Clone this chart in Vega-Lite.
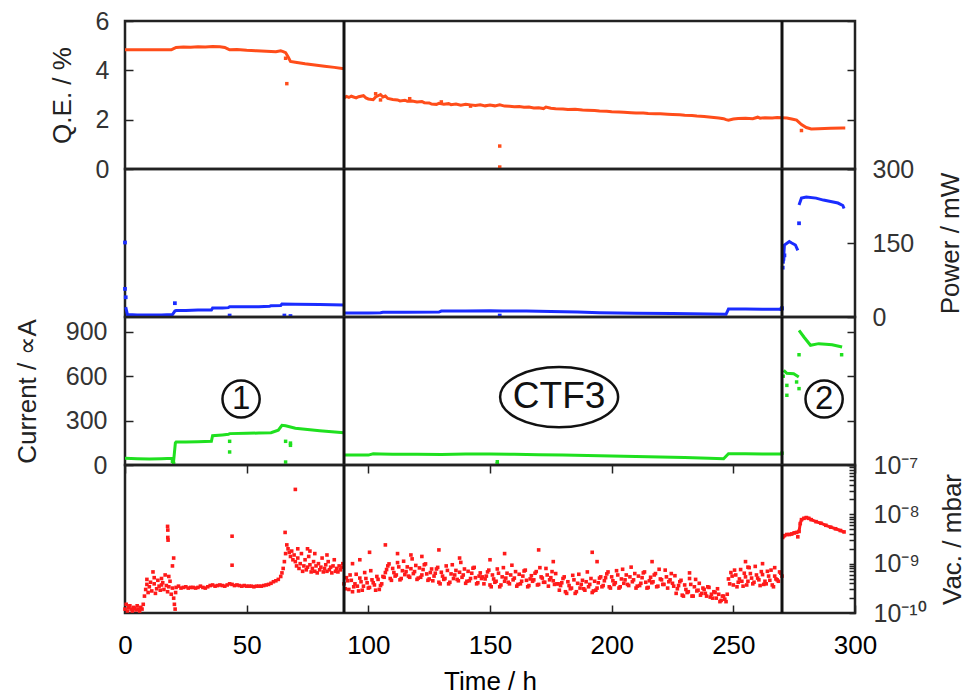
{
"$schema": "https://vega.github.io/schema/vega-lite/v6.json",
"background": "white",
"padding": {"left": 12, "top": 7, "right": 113, "bottom": 0},
"spacing": 0,
"bounds": "flush",
"config": {
 "font": "Liberation Sans",
 "view": {"stroke": "#222", "strokeWidth": 2.5},
 "axis": {"domain": false, "grid": false, "tickColor": "#222", "tickWidth": 1.5, "labelFont": "Liberation Sans", "labelFontSize": 25, "labelColor": "#333", "titleFont": "Liberation Sans", "titleFontSize": 26, "titleFontWeight": "normal", "titleColor": "#222", "labelFlush": false}
},
"datasets": {
 "qe": [
  {"t":0,"v":4.83,"s":"a"},{"t":10,"v":4.83,"s":"a"},{"t":19,"v":4.83,"s":"a"},{"t":20,"v":4.88,"s":"a"},{"t":21,"v":4.93,"s":"a"},{"t":24,"v":4.95,"s":"a"},{"t":27,"v":4.94,"s":"a"},{"t":30,"v":4.96,"s":"a"},{"t":33,"v":4.95,"s":"a"},{"t":36,"v":4.97,"s":"a"},{"t":39,"v":4.96,"s":"a"},{"t":41,"v":4.93,"s":"a"},{"t":42,"v":4.88,"s":"a"},{"t":43,"v":4.83,"s":"a"},{"t":46,"v":4.84,"s":"a"},{"t":50,"v":4.81,"s":"a"},{"t":54,"v":4.79,"s":"a"},{"t":58,"v":4.77,"s":"a"},{"t":62,"v":4.75,"s":"a"},{"t":64,"v":4.79,"s":"a"},{"t":65,"v":4.76,"s":"a"},{"t":66,"v":4.72,"s":"a"},{"t":67,"v":4.55,"s":"a"},{"t":68,"v":4.36,"s":"a"},{"t":70,"v":4.33,"s":"a"},{"t":74,"v":4.27,"s":"a"},{"t":78,"v":4.22,"s":"a"},{"t":82,"v":4.17,"s":"a"},{"t":86,"v":4.12,"s":"a"},{"t":90,"v":4.06,"s":"a"},
  {"t":90,"v":2.88,"s":"b"},{"t":91,"v":2.94,"s":"b"},{"t":92,"v":2.9,"s":"b"},{"t":93,"v":2.95,"s":"b"},{"t":95,"v":2.88,"s":"b"},{"t":96,"v":2.93,"s":"b"},{"t":98,"v":2.97,"s":"b"},{"t":99,"v":2.88,"s":"b"},{"t":100,"v":2.84,"s":"b"},{"t":102,"v":2.81,"s":"b"},{"t":103,"v":2.92,"s":"b"},{"t":104,"v":2.97,"s":"b"},{"t":105,"v":3.02,"s":"b"},{"t":106,"v":2.92,"s":"b"},{"t":107,"v":2.96,"s":"b"},{"t":108,"v":2.86,"s":"b"},{"t":110,"v":2.82,"s":"b"},{"t":112,"v":2.8,"s":"b"},{"t":113,"v":2.76,"s":"b"},{"t":115,"v":2.79,"s":"b"},{"t":116,"v":2.75,"s":"b"},{"t":118,"v":2.76,"s":"b"},{"t":120,"v":2.72,"s":"b"},{"t":122,"v":2.74,"s":"b"},{"t":123,"v":2.69,"s":"b"},{"t":125,"v":2.68,"s":"b"},{"t":126,"v":2.63,"s":"b"},{"t":128,"v":2.62,"s":"b"},{"t":129,"v":2.66,"s":"b"},{"t":131,"v":2.63,"s":"b"},{"t":133,"v":2.65,"s":"b"},{"t":134,"v":2.61,"s":"b"},{"t":136,"v":2.63,"s":"b"},{"t":138,"v":2.59,"s":"b"},{"t":140,"v":2.62,"s":"b"},{"t":142,"v":2.6,"s":"b"},{"t":144,"v":2.57,"s":"b"},{"t":146,"v":2.6,"s":"b"},{"t":148,"v":2.56,"s":"b"},{"t":150,"v":2.59,"s":"b"},{"t":152,"v":2.56,"s":"b"},{"t":154,"v":2.6,"s":"b"},{"t":156,"v":2.55,"s":"b"},{"t":158,"v":2.54,"s":"b"},{"t":160,"v":2.52,"s":"b"},{"t":162,"v":2.53,"s":"b"},{"t":164,"v":2.5,"s":"b"},{"t":166,"v":2.51,"s":"b"},{"t":168,"v":2.47,"s":"b"},{"t":170,"v":2.48,"s":"b"},{"t":172,"v":2.45,"s":"b"},{"t":173,"v":2.51,"s":"b"},{"t":175,"v":2.46,"s":"b"},{"t":177,"v":2.44,"s":"b"},{"t":180,"v":2.43,"s":"b"},{"t":182,"v":2.41,"s":"b"},{"t":185,"v":2.42,"s":"b"},{"t":188,"v":2.39,"s":"b"},{"t":190,"v":2.38,"s":"b"},{"t":193,"v":2.37,"s":"b"},{"t":195,"v":2.35,"s":"b"},{"t":198,"v":2.34,"s":"b"},{"t":200,"v":2.32,"s":"b"},{"t":203,"v":2.31,"s":"b"},{"t":205,"v":2.3,"s":"b"},{"t":208,"v":2.28,"s":"b"},{"t":210,"v":2.27,"s":"b"},{"t":213,"v":2.27,"s":"b"},{"t":215,"v":2.25,"s":"b"},{"t":218,"v":2.24,"s":"b"},{"t":220,"v":2.24,"s":"b"},{"t":223,"v":2.22,"s":"b"},{"t":225,"v":2.21,"s":"b"},{"t":228,"v":2.2,"s":"b"},{"t":230,"v":2.18,"s":"b"},{"t":233,"v":2.17,"s":"b"},{"t":235,"v":2.15,"s":"b"},{"t":238,"v":2.13,"s":"b"},{"t":240,"v":2.11,"s":"b"},{"t":242,"v":2.09,"s":"b"},{"t":244,"v":2.07,"s":"b"},{"t":246,"v":2.04,"s":"b"},{"t":247,"v":2.0,"s":"b"},{"t":248,"v":1.98,"s":"b"},{"t":250,"v":2.03,"s":"b"},{"t":252,"v":2.05,"s":"b"},{"t":255,"v":2.06,"s":"b"},{"t":258,"v":2.04,"s":"b"},{"t":260,"v":2.1,"s":"b"},{"t":261,"v":2.06,"s":"b"},{"t":263,"v":2.08,"s":"b"},{"t":266,"v":2.07,"s":"b"},{"t":268,"v":2.09,"s":"b"},{"t":270,"v":2.08,"s":"b"},
  {"t":270,"v":2.08,"s":"c"},{"t":272,"v":2.07,"s":"c"},{"t":274,"v":2.03,"s":"c"},{"t":276,"v":1.98,"s":"c"},{"t":278,"v":1.8,"s":"c"},{"t":280,"v":1.68,"s":"c"},{"t":282,"v":1.62,"s":"c"},{"t":285,"v":1.63,"s":"c"},{"t":290,"v":1.65,"s":"c"},{"t":295,"v":1.66,"s":"c"},{"t":296,"v":1.66,"s":"c"}
 ],
 "qeo": [
  {"t":66,"v":4.49},{"t":66.5,"v":3.46},{"t":154,"v":0.93},{"t":154,"v":0.08},{"t":278,"v":1.56},{"t":103,"v":3.05},{"t":105,"v":2.8},{"t":130,"v":2.72},{"t":142,"v":2.55},{"t":117,"v":2.85}
 ],
 "pw": [
  {"t":0.3,"v":20,"s":"a"},{"t":1,"v":5,"s":"a"},{"t":5,"v":4,"s":"a"},{"t":10,"v":4,"s":"a"},{"t":15,"v":4,"s":"a"},{"t":19.5,"v":5,"s":"a"},{"t":20.5,"v":12,"s":"a"},{"t":21,"v":13,"s":"a"},{"t":25,"v":13,"s":"a"},{"t":30,"v":14,"s":"a"},{"t":35.5,"v":14,"s":"a"},{"t":36,"v":18,"s":"a"},{"t":40,"v":18,"s":"a"},{"t":42.5,"v":19,"s":"a"},{"t":43,"v":21,"s":"a"},{"t":48,"v":21,"s":"a"},{"t":55,"v":21,"s":"a"},{"t":59.5,"v":22,"s":"a"},{"t":60,"v":23,"s":"a"},{"t":64,"v":23.5,"s":"a"},{"t":64.5,"v":26.5,"s":"a"},{"t":70,"v":26,"s":"a"},{"t":80,"v":25.5,"s":"a"},{"t":90,"v":24.5,"s":"a"},
  {"t":90,"v":8,"s":"b"},{"t":100,"v":8,"s":"b"},{"t":105,"v":8.5,"s":"b"},{"t":106,"v":9.5,"s":"b"},{"t":115,"v":9.5,"s":"b"},{"t":129,"v":10,"s":"b"},{"t":130,"v":12,"s":"b"},{"t":140,"v":12,"s":"b"},{"t":150,"v":12.5,"s":"b"},{"t":155,"v":12,"s":"b"},{"t":165,"v":12,"s":"b"},{"t":175,"v":11,"s":"b"},{"t":186,"v":10,"s":"b"},{"t":195,"v":8.5,"s":"b"},{"t":210,"v":7.5,"s":"b"},{"t":225,"v":7,"s":"b"},{"t":240,"v":6,"s":"b"},{"t":247,"v":5.5,"s":"b"},{"t":248,"v":16,"s":"b"},{"t":255,"v":16,"s":"b"},{"t":262,"v":15.5,"s":"b"},{"t":270,"v":15.5,"s":"b"},
  {"t":270.5,"v":108,"s":"c"},{"t":271,"v":146,"s":"c"},{"t":273,"v":153,"s":"c"},{"t":274,"v":150,"s":"c"},{"t":275.5,"v":146,"s":"c"},{"t":276.5,"v":135,"s":"c"},
  {"t":277,"v":227,"s":"d"},{"t":278,"v":241,"s":"d"},{"t":280,"v":243,"s":"d"},{"t":284,"v":241,"s":"d"},{"t":287,"v":237,"s":"d"},{"t":290,"v":234,"s":"d"},{"t":293,"v":231,"s":"d"},{"t":295,"v":226,"s":"d"},{"t":295.5,"v":220,"s":"d"}
 ],
 "pwo": [
  {"t":0,"v":151},{"t":0,"v":57},{"t":0.3,"v":40},{"t":20.5,"v":28},{"t":43,"v":3},{"t":65.5,"v":3},{"t":68,"v":2},{"t":154,"v":3},{"t":270.3,"v":100},{"t":270.6,"v":118},{"t":271,"v":125},{"t":277,"v":190},{"t":270,"v":18},{"t":269.8,"v":16}
 ],
 "cu": [
  {"t":0,"v":45,"s":"a"},{"t":5,"v":42,"s":"a"},{"t":10,"v":40,"s":"a"},{"t":15,"v":42,"s":"a"},{"t":19.5,"v":45,"s":"a"},{"t":20,"v":30,"s":"a"},{"t":20.7,"v":150,"s":"a"},{"t":21,"v":155,"s":"a"},{"t":25,"v":155,"s":"a"},{"t":30,"v":157,"s":"a"},{"t":35.5,"v":160,"s":"a"},{"t":36,"v":198,"s":"a"},{"t":40,"v":203,"s":"a"},{"t":42.5,"v":207,"s":"a"},{"t":43,"v":212,"s":"a"},{"t":50,"v":214,"s":"a"},{"t":55,"v":216,"s":"a"},{"t":60,"v":218,"s":"a"},{"t":63,"v":235,"s":"a"},{"t":64.5,"v":268,"s":"a"},{"t":66,"v":265,"s":"a"},{"t":70,"v":248,"s":"a"},{"t":75,"v":240,"s":"a"},{"t":80,"v":232,"s":"a"},{"t":85,"v":225,"s":"a"},{"t":90,"v":218,"s":"a"},
  {"t":90,"v":68,"s":"b"},{"t":95,"v":67,"s":"b"},{"t":100,"v":67,"s":"b"},{"t":102,"v":76,"s":"b"},{"t":105,"v":74,"s":"b"},{"t":110,"v":72,"s":"b"},{"t":120,"v":72,"s":"b"},{"t":130,"v":71,"s":"b"},{"t":140,"v":74,"s":"b"},{"t":150,"v":75,"s":"b"},{"t":160,"v":72,"s":"b"},{"t":170,"v":70,"s":"b"},{"t":180,"v":67,"s":"b"},{"t":190,"v":64,"s":"b"},{"t":200,"v":60,"s":"b"},{"t":210,"v":57,"s":"b"},{"t":220,"v":54,"s":"b"},{"t":230,"v":50,"s":"b"},{"t":240,"v":46,"s":"b"},{"t":246,"v":42,"s":"b"},{"t":248,"v":76,"s":"b"},{"t":255,"v":76,"s":"b"},{"t":262,"v":75,"s":"b"},{"t":270,"v":74,"s":"b"},
  {"t":270.7,"v":640,"s":"c"},{"t":272,"v":620,"s":"c"},{"t":274.8,"v":617,"s":"c"},{"t":276.9,"v":595,"s":"c"},
  {"t":277,"v":910,"s":"d"},{"t":279,"v":865,"s":"d"},{"t":281.7,"v":809,"s":"d"},{"t":285.1,"v":820,"s":"d"},{"t":288,"v":816,"s":"d"},{"t":290.6,"v":813,"s":"d"},{"t":294.7,"v":797,"s":"d"}
 ],
 "cuo": [
  {"t":20,"v":10},{"t":19.5,"v":25},{"t":43,"v":160},{"t":43,"v":88},{"t":66,"v":20},{"t":66,"v":160},{"t":68,"v":133},{"t":68,"v":148},{"t":153,"v":9},{"t":153,"v":22},{"t":272,"v":538},{"t":272,"v":471},{"t":276,"v":561},{"t":277,"v":516},{"t":277,"v":745},{"t":294.5,"v":745},{"t":270,"v":80},{"t":270.5,"v":600}
 ],
 "ann": [
  {"t":47.7,"v":446,"lab":"1","kind":"circle"},{"t":287.3,"v":446,"lab":"2","kind":"circle"},{"t":178.4,"v":459,"lab":"CTF3","kind":"ellipse"}
 ],
 "vac": [
  {"t":0,"v":1.2e-10,"s":"a"},{"t":0.5,"v":1.5e-10,"s":"a"},{"t":1,"v":1.1e-10,"s":"a"},{"t":1.5,"v":1.3e-10,"s":"a"},{"t":2,"v":1.4e-10,"s":"a"},{"t":2.5,"v":1.2e-10,"s":"a"},{"t":3,"v":1.1e-10,"s":"a"},{"t":3.5,"v":1.3e-10,"s":"a"},{"t":4,"v":1.25e-10,"s":"a"},{"t":4.5,"v":1.15e-10,"s":"a"},{"t":5,"v":1.4e-10,"s":"a"},{"t":5.5,"v":1.2e-10,"s":"a"},{"t":6,"v":1.1e-10,"s":"a"},{"t":6.5,"v":1.3e-10,"s":"a"},{"t":7,"v":1.2e-10,"s":"a"},{"t":7.5,"v":1.5e-10,"s":"a"},
  {"t":8,"v":2.2e-10,"s":"a"},{"t":8.5,"v":3.0e-10,"s":"a"},{"t":9,"v":3.8e-10,"s":"a"},{"t":9.5,"v":2.6e-10,"s":"a"},{"t":10,"v":3.4e-10,"s":"a"},{"t":10.5,"v":4.2e-10,"s":"a"},{"t":11,"v":2.8e-10,"s":"a"},{"t":11.5,"v":6.8e-10,"s":"a"},{"t":12,"v":3.9e-10,"s":"a"},{"t":12.5,"v":2.5e-10,"s":"a"},{"t":13,"v":3.1e-10,"s":"a"},{"t":13.5,"v":4.6e-10,"s":"a"},{"t":14,"v":3.5e-10,"s":"a"},{"t":14.5,"v":2.9e-10,"s":"a"},{"t":15,"v":3.7e-10,"s":"a"},{"t":15.5,"v":4.1e-10,"s":"a"},{"t":16,"v":3.0e-10,"s":"a"},{"t":16.5,"v":5.9e-10,"s":"a"},{"t":17,"v":3.6e-10,"s":"a"},{"t":17.5,"v":2.7e-10,"s":"a"},{"t":18,"v":3.4e-10,"s":"a"},{"t":18.5,"v":4.4e-10,"s":"a"},{"t":19,"v":2.4e-10,"s":"a"},{"t":19.5,"v":3.2e-10,"s":"a"},{"t":20,"v":2.0e-10,"s":"a"},{"t":20.3,"v":1.5e-10,"s":"a"},{"t":20.6,"v":1.2e-10,"s":"a"},{"t":20.8,"v":2.6e-10,"s":"a"},
  {"t":17.5,"v":5.7e-9,"s":"a"},{"t":17.6,"v":4.8e-9,"s":"a"},{"t":17.6,"v":3.4e-9,"s":"a"},{"t":17.7,"v":3.0e-9,"s":"a"},{"t":20,"v":1.3e-9,"s":"a"},{"t":19.5,"v":9e-10,"s":"a"},{"t":9,"v":4.8e-10,"s":"a"},{"t":12,"v":5.2e-10,"s":"a"},{"t":15,"v":5.0e-10,"s":"a"},{"t":18,"v":5.5e-10,"s":"a"},
  {"t":21,"v":3.3e-10,"s":"a"},{"t":22,"v":3.5e-10,"s":"a"},{"t":23,"v":3.2e-10,"s":"a"},{"t":24,"v":3.3e-10,"s":"a"},{"t":25,"v":3.4e-10,"s":"a"},{"t":26,"v":3.2e-10,"s":"a"},{"t":27,"v":3.3e-10,"s":"a"},{"t":28,"v":3.3e-10,"s":"a"},{"t":29,"v":3.2e-10,"s":"a"},{"t":30,"v":3.3e-10,"s":"a"},{"t":31,"v":3.5e-10,"s":"a"},{"t":32,"v":3.3e-10,"s":"a"},{"t":33,"v":3.2e-10,"s":"a"},{"t":34,"v":3.4e-10,"s":"a"},{"t":35,"v":3.6e-10,"s":"a"},{"t":36,"v":3.7e-10,"s":"a"},{"t":37,"v":3.5e-10,"s":"a"},{"t":38,"v":3.6e-10,"s":"a"},{"t":39,"v":3.7e-10,"s":"a"},{"t":40,"v":3.6e-10,"s":"a"},{"t":41,"v":3.5e-10,"s":"a"},{"t":42,"v":3.7e-10,"s":"a"},{"t":43,"v":3.9e-10,"s":"a"},{"t":44,"v":3.8e-10,"s":"a"},{"t":45,"v":3.6e-10,"s":"a"},{"t":46,"v":3.7e-10,"s":"a"},{"t":47,"v":3.6e-10,"s":"a"},{"t":48,"v":3.5e-10,"s":"a"},{"t":49,"v":3.6e-10,"s":"a"},{"t":50,"v":3.5e-10,"s":"a"},{"t":51,"v":3.5e-10,"s":"a"},{"t":52,"v":3.5e-10,"s":"a"},{"t":53,"v":3.4e-10,"s":"a"},{"t":54,"v":3.5e-10,"s":"a"},{"t":55,"v":3.5e-10,"s":"a"},{"t":56,"v":3.5e-10,"s":"a"},{"t":57,"v":3.6e-10,"s":"a"},{"t":58,"v":3.7e-10,"s":"a"},{"t":59,"v":3.8e-10,"s":"a"},{"t":60,"v":4.0e-10,"s":"a"},{"t":61,"v":4.3e-10,"s":"a"},{"t":62,"v":4.5e-10,"s":"a"},{"t":63,"v":4.8e-10,"s":"a"},{"t":64,"v":5.5e-10,"s":"a"},{"t":64.5,"v":6.5e-10,"s":"a"},{"t":65,"v":8e-10,"s":"a"},{"t":65.5,"v":1.1e-9,"s":"a"},{"t":66,"v":1.6e-9,"s":"a"},{"t":66.5,"v":2.4e-9,"s":"a"},{"t":67,"v":2.0e-9,"s":"a"},{"t":67.5,"v":1.7e-9,"s":"a"},{"t":68,"v":1.4e-9,"s":"a"},
  {"t":44,"v":3.6e-9,"s":"a"},{"t":44,"v":9.3e-10,"s":"a"},{"t":65.8,"v":4.3e-9,"s":"a"},{"t":70,"v":3.2e-8,"s":"a"},
  {"t":68.5,"v":1.8e-9,"s":"a"},{"t":69,"v":1.2e-9,"s":"a"},{"t":69.5,"v":1.5e-9,"s":"a"},{"t":70,"v":1.1e-9,"s":"a"},{"t":70.5,"v":9e-10,"s":"a"},{"t":71,"v":1.3e-9,"s":"a"},{"t":71.5,"v":8e-10,"s":"a"},{"t":72,"v":1.0e-9,"s":"a"},{"t":72.5,"v":1.6e-9,"s":"a"},{"t":73,"v":7e-10,"s":"a"},{"t":73.5,"v":9e-10,"s":"a"},{"t":74,"v":1.2e-9,"s":"a"},{"t":74.5,"v":7.5e-10,"s":"a"},{"t":75,"v":8.5e-10,"s":"a"},{"t":75.5,"v":1.4e-9,"s":"a"},{"t":76,"v":9.5e-10,"s":"a"},{"t":76.5,"v":6.8e-10,"s":"a"},{"t":77,"v":8e-10,"s":"a"},{"t":77.5,"v":1.1e-9,"s":"a"},{"t":78,"v":7e-10,"s":"a"},{"t":78.5,"v":9e-10,"s":"a"},{"t":79,"v":6.5e-10,"s":"a"},{"t":79.5,"v":1.0e-9,"s":"a"},{"t":80,"v":7.5e-10,"s":"a"},{"t":80.5,"v":8.5e-10,"s":"a"},{"t":81,"v":1.3e-9,"s":"a"},{"t":81.5,"v":6.8e-10,"s":"a"},{"t":82,"v":8e-10,"s":"a"},{"t":82.5,"v":9.5e-10,"s":"a"},{"t":83,"v":7e-10,"s":"a"},{"t":83.5,"v":1.1e-9,"s":"a"},{"t":84,"v":7.5e-10,"s":"a"},{"t":84.5,"v":8.5e-10,"s":"a"},{"t":85,"v":6.5e-10,"s":"a"},{"t":85.5,"v":9e-10,"s":"a"},{"t":86,"v":1.2e-9,"s":"a"},{"t":86.5,"v":7e-10,"s":"a"},{"t":87,"v":8e-10,"s":"a"},{"t":87.5,"v":6.8e-10,"s":"a"},{"t":88,"v":9e-10,"s":"a"},{"t":88.5,"v":7.5e-10,"s":"a"},{"t":89,"v":8.5e-10,"s":"a"},{"t":89.5,"v":1.0e-9,"s":"a"},
  {"t":71,"v":2.0e-9,"s":"a"},{"t":75,"v":2.0e-9,"s":"a"},{"t":78,"v":1.6e-9,"s":"a"},{"t":83,"v":1.5e-9,"s":"a"},{"t":76,"v":1.8e-9,"s":"a"},
  {"t":90,"v":3.9e-10,"s":"b"},{"t":91,"v":5.2e-10,"s":"b"},{"t":92,"v":3.0e-10,"s":"b"},{"t":93,"v":4.6e-10,"s":"b"},{"t":94,"v":3.4e-10,"s":"b"},{"t":95,"v":6.1e-10,"s":"b"},{"t":96,"v":2.8e-10,"s":"b"},{"t":97,"v":4.3e-10,"s":"b"},{"t":98,"v":3.5e-10,"s":"b"},{"t":99,"v":5.0e-10,"s":"b"},{"t":100,"v":3.2e-10,"s":"b"},{"t":101,"v":7.2e-10,"s":"b"},{"t":102,"v":4.1e-10,"s":"b"},{"t":103,"v":2.9e-10,"s":"b"},{"t":104,"v":4.8e-10,"s":"b"},{"t":105,"v":3.6e-10,"s":"b"},{"t":106,"v":5.5e-10,"s":"b"},
  {"t":90.5,"v":3.1e-10,"s":"b"},{"t":91.5,"v":4.5e-10,"s":"b"},{"t":92.5,"v":5.9e-10,"s":"b"},{"t":93.5,"v":2.7e-10,"s":"b"},{"t":94.5,"v":3.9e-10,"s":"b"},{"t":95.5,"v":3.5e-10,"s":"b"},{"t":96.5,"v":5.1e-10,"s":"b"},{"t":97.5,"v":2.9e-10,"s":"b"},{"t":98.5,"v":6.6e-10,"s":"b"},{"t":99.5,"v":4.1e-10,"s":"b"},{"t":100.5,"v":3.3e-10,"s":"b"},{"t":101.5,"v":4.7e-10,"s":"b"},{"t":102.5,"v":3.7e-10,"s":"b"},{"t":103.5,"v":5.5e-10,"s":"b"},{"t":104.5,"v":3.0e-10,"s":"b"},{"t":105.5,"v":3.9e-10,"s":"b"},
  {"t":100.5,"v":1.7e-9,"s":"b"},{"t":93.5,"v":1.0e-9,"s":"b"},{"t":96.5,"v":1.2e-9,"s":"b"},
  {"t":107,"v":6.6e-10,"s":"b"},{"t":108,"v":9.0e-10,"s":"b"},{"t":109,"v":5.0e-10,"s":"b"},{"t":110,"v":8.0e-10,"s":"b"},{"t":111,"v":5.6e-10,"s":"b"},{"t":112,"v":1.05e-9,"s":"b"},{"t":113,"v":4.7e-10,"s":"b"},{"t":114,"v":7.2e-10,"s":"b"},{"t":115,"v":6.0e-10,"s":"b"},{"t":116,"v":8.6e-10,"s":"b"},{"t":117,"v":5.3e-10,"s":"b"},{"t":118,"v":1.25e-9,"s":"b"},{"t":119,"v":6.9e-10,"s":"b"},{"t":120,"v":4.8e-10,"s":"b"},{"t":121,"v":8.2e-10,"s":"b"},{"t":122,"v":5.9e-10,"s":"b"},{"t":123,"v":9.5e-10,"s":"b"},{"t":124,"v":6.2e-10,"s":"b"},{"t":125,"v":4.9e-10,"s":"b"},{"t":126,"v":7.8e-10,"s":"b"},
  {"t":106.5,"v":5.3e-10,"s":"b"},{"t":107.5,"v":7.6e-10,"s":"b"},{"t":108.5,"v":9.9e-10,"s":"b"},{"t":109.5,"v":4.6e-10,"s":"b"},{"t":110.5,"v":6.6e-10,"s":"b"},{"t":111.5,"v":5.9e-10,"s":"b"},{"t":112.5,"v":8.6e-10,"s":"b"},{"t":113.5,"v":5.0e-10,"s":"b"},{"t":114.5,"v":1.12e-9,"s":"b"},{"t":115.5,"v":6.9e-10,"s":"b"},{"t":116.5,"v":5.6e-10,"s":"b"},{"t":117.5,"v":7.9e-10,"s":"b"},{"t":118.5,"v":6.3e-10,"s":"b"},{"t":119.5,"v":9.2e-10,"s":"b"},{"t":120.5,"v":5.1e-10,"s":"b"},{"t":121.5,"v":5.3e-10,"s":"b"},{"t":122.5,"v":7.6e-10,"s":"b"},{"t":123.5,"v":9.9e-10,"s":"b"},{"t":124.5,"v":4.6e-10,"s":"b"},{"t":125.5,"v":6.6e-10,"s":"b"},
  {"t":107,"v":2.4e-9,"s":"b"},{"t":112,"v":1.6e-9,"s":"b"},{"t":117.5,"v":1.5e-9,"s":"b"},{"t":122,"v":1.4e-9,"s":"b"},{"t":129,"v":1.9e-9,"s":"b"},
  {"t":127,"v":5.6e-10,"s":"b"},{"t":128,"v":7.8e-10,"s":"b"},{"t":129,"v":4.2e-10,"s":"b"},{"t":130,"v":6.7e-10,"s":"b"},{"t":131,"v":4.8e-10,"s":"b"},{"t":132,"v":9.0e-10,"s":"b"},{"t":133,"v":3.9e-10,"s":"b"},{"t":134,"v":6.2e-10,"s":"b"},{"t":135,"v":5.0e-10,"s":"b"},{"t":136,"v":7.3e-10,"s":"b"},{"t":137,"v":4.5e-10,"s":"b"},{"t":138,"v":1.06e-9,"s":"b"},{"t":139,"v":5.9e-10,"s":"b"},{"t":140,"v":4.0e-10,"s":"b"},{"t":141,"v":7.0e-10,"s":"b"},{"t":142,"v":5.0e-10,"s":"b"},{"t":143,"v":8.1e-10,"s":"b"},{"t":144,"v":5.2e-10,"s":"b"},{"t":145,"v":4.1e-10,"s":"b"},{"t":146,"v":6.5e-10,"s":"b"},{"t":147,"v":5.4e-10,"s":"b"},
  {"t":126.5,"v":4.5e-10,"s":"b"},{"t":127.5,"v":6.4e-10,"s":"b"},{"t":128.5,"v":8.4e-10,"s":"b"},{"t":129.5,"v":3.9e-10,"s":"b"},{"t":130.5,"v":5.6e-10,"s":"b"},{"t":131.5,"v":5.0e-10,"s":"b"},{"t":132.5,"v":7.3e-10,"s":"b"},{"t":133.5,"v":4.2e-10,"s":"b"},{"t":134.5,"v":9.5e-10,"s":"b"},{"t":135.5,"v":5.9e-10,"s":"b"},{"t":136.5,"v":4.8e-10,"s":"b"},{"t":137.5,"v":6.7e-10,"s":"b"},{"t":138.5,"v":5.3e-10,"s":"b"},{"t":139.5,"v":7.8e-10,"s":"b"},{"t":140.5,"v":4.4e-10,"s":"b"},{"t":141.5,"v":4.5e-10,"s":"b"},{"t":142.5,"v":6.4e-10,"s":"b"},{"t":143.5,"v":8.4e-10,"s":"b"},{"t":144.5,"v":3.9e-10,"s":"b"},{"t":145.5,"v":5.6e-10,"s":"b"},{"t":146.5,"v":5.0e-10,"s":"b"},
  {"t":156,"v":1.6e-9,"s":"b"},{"t":137.5,"v":1.3e-9,"s":"b"},{"t":150,"v":1.2e-9,"s":"b"},
  {"t":148,"v":4.9e-10,"s":"b"},{"t":149,"v":6.8e-10,"s":"b"},{"t":150,"v":3.7e-10,"s":"b"},{"t":151,"v":5.9e-10,"s":"b"},{"t":152,"v":4.2e-10,"s":"b"},{"t":153,"v":7.8e-10,"s":"b"},{"t":154,"v":3.4e-10,"s":"b"},{"t":155,"v":5.4e-10,"s":"b"},{"t":156,"v":4.4e-10,"s":"b"},{"t":157,"v":6.4e-10,"s":"b"},{"t":158,"v":3.9e-10,"s":"b"},{"t":159,"v":9.3e-10,"s":"b"},{"t":160,"v":5.1e-10,"s":"b"},{"t":161,"v":3.5e-10,"s":"b"},{"t":162,"v":6.1e-10,"s":"b"},{"t":163,"v":4.4e-10,"s":"b"},{"t":164,"v":7.1e-10,"s":"b"},{"t":165,"v":4.6e-10,"s":"b"},{"t":166,"v":3.6e-10,"s":"b"},{"t":167,"v":5.7e-10,"s":"b"},{"t":168,"v":4.7e-10,"s":"b"},{"t":169,"v":6.9e-10,"s":"b"},{"t":170,"v":3.8e-10,"s":"b"},{"t":171,"v":5.4e-10,"s":"b"},{"t":172,"v":4.2e-10,"s":"b"},{"t":173,"v":8.0e-10,"s":"b"},{"t":174,"v":3.5e-10,"s":"b"},{"t":175,"v":5.2e-10,"s":"b"},{"t":176,"v":4.5e-10,"s":"b"},{"t":177,"v":6.3e-10,"s":"b"},{"t":178,"v":3.9e-10,"s":"b"},
  {"t":147.5,"v":3.9e-10,"s":"b"},{"t":148.5,"v":5.6e-10,"s":"b"},{"t":149.5,"v":7.4e-10,"s":"b"},{"t":150.5,"v":3.4e-10,"s":"b"},{"t":151.5,"v":4.9e-10,"s":"b"},{"t":152.5,"v":4.4e-10,"s":"b"},{"t":153.5,"v":6.4e-10,"s":"b"},{"t":154.5,"v":3.7e-10,"s":"b"},{"t":155.5,"v":8.3e-10,"s":"b"},{"t":156.5,"v":5.1e-10,"s":"b"},{"t":157.5,"v":4.2e-10,"s":"b"},{"t":158.5,"v":5.9e-10,"s":"b"},{"t":159.5,"v":4.7e-10,"s":"b"},{"t":160.5,"v":6.9e-10,"s":"b"},{"t":161.5,"v":3.8e-10,"s":"b"},{"t":162.5,"v":3.9e-10,"s":"b"},{"t":163.5,"v":5.6e-10,"s":"b"},{"t":164.5,"v":7.4e-10,"s":"b"},{"t":165.5,"v":3.4e-10,"s":"b"},{"t":166.5,"v":4.9e-10,"s":"b"},{"t":167.5,"v":4.4e-10,"s":"b"},{"t":168.5,"v":6.4e-10,"s":"b"},{"t":169.5,"v":3.7e-10,"s":"b"},{"t":170.5,"v":8.3e-10,"s":"b"},{"t":171.5,"v":5.1e-10,"s":"b"},{"t":172.5,"v":4.2e-10,"s":"b"},{"t":173.5,"v":5.9e-10,"s":"b"},{"t":174.5,"v":4.7e-10,"s":"b"},{"t":175.5,"v":6.9e-10,"s":"b"},{"t":176.5,"v":3.8e-10,"s":"b"},{"t":177.5,"v":3.9e-10,"s":"b"},
  {"t":170,"v":1.9e-9,"s":"b"},{"t":176,"v":1.1e-9,"s":"b"},
  {"t":179,"v":3.6e-10,"s":"b"},{"t":180,"v":5.0e-10,"s":"b"},{"t":181,"v":2.7e-10,"s":"b"},{"t":182,"v":4.3e-10,"s":"b"},{"t":183,"v":3.1e-10,"s":"b"},{"t":184,"v":5.8e-10,"s":"b"},{"t":185,"v":2.5e-10,"s":"b"},{"t":186,"v":4.0e-10,"s":"b"},{"t":187,"v":3.2e-10,"s":"b"},{"t":188,"v":4.6e-10,"s":"b"},{"t":189,"v":2.9e-10,"s":"b"},{"t":190,"v":6.8e-10,"s":"b"},{"t":191,"v":3.8e-10,"s":"b"},{"t":192,"v":2.6e-10,"s":"b"},{"t":193,"v":4.4e-10,"s":"b"},{"t":194,"v":3.2e-10,"s":"b"},{"t":195,"v":5.1e-10,"s":"b"},{"t":196,"v":3.4e-10,"s":"b"},
  {"t":178.5,"v":2.9e-10,"s":"b"},{"t":179.5,"v":4.1e-10,"s":"b"},{"t":180.5,"v":5.4e-10,"s":"b"},{"t":181.5,"v":2.5e-10,"s":"b"},{"t":182.5,"v":3.6e-10,"s":"b"},{"t":183.5,"v":3.2e-10,"s":"b"},{"t":184.5,"v":4.7e-10,"s":"b"},{"t":185.5,"v":2.7e-10,"s":"b"},{"t":186.5,"v":6.1e-10,"s":"b"},{"t":187.5,"v":3.8e-10,"s":"b"},{"t":188.5,"v":3.1e-10,"s":"b"},{"t":189.5,"v":4.3e-10,"s":"b"},{"t":190.5,"v":3.4e-10,"s":"b"},{"t":191.5,"v":5.0e-10,"s":"b"},{"t":192.5,"v":2.8e-10,"s":"b"},{"t":193.5,"v":2.9e-10,"s":"b"},{"t":194.5,"v":4.1e-10,"s":"b"},{"t":195.5,"v":5.4e-10,"s":"b"},
  {"t":192,"v":1.7e-9,"s":"b"},{"t":194,"v":1.1e-9,"s":"b"},
  {"t":197,"v":4.5e-10,"s":"b"},{"t":198,"v":6.2e-10,"s":"b"},{"t":199,"v":3.4e-10,"s":"b"},{"t":200,"v":5.4e-10,"s":"b"},{"t":201,"v":3.8e-10,"s":"b"},{"t":202,"v":7.2e-10,"s":"b"},{"t":203,"v":3.2e-10,"s":"b"},{"t":204,"v":4.9e-10,"s":"b"},{"t":205,"v":4.0e-10,"s":"b"},{"t":206,"v":5.9e-10,"s":"b"},{"t":207,"v":3.6e-10,"s":"b"},{"t":208,"v":8.5e-10,"s":"b"},{"t":209,"v":4.7e-10,"s":"b"},{"t":210,"v":3.2e-10,"s":"b"},{"t":211,"v":5.6e-10,"s":"b"},{"t":212,"v":4.0e-10,"s":"b"},{"t":213,"v":6.5e-10,"s":"b"},{"t":214,"v":4.2e-10,"s":"b"},{"t":215,"v":3.3e-10,"s":"b"},{"t":216,"v":5.3e-10,"s":"b"},{"t":217,"v":4.3e-10,"s":"b"},{"t":218,"v":6.3e-10,"s":"b"},{"t":219,"v":3.5e-10,"s":"b"},{"t":220,"v":4.9e-10,"s":"b"},{"t":221,"v":3.8e-10,"s":"b"},{"t":222,"v":7.4e-10,"s":"b"},{"t":223,"v":3.2e-10,"s":"b"},{"t":224,"v":4.7e-10,"s":"b"},{"t":225,"v":4.0e-10,"s":"b"},{"t":226,"v":5.7e-10,"s":"b"},
  {"t":196.5,"v":3.6e-10,"s":"b"},{"t":197.5,"v":5.2e-10,"s":"b"},{"t":198.5,"v":6.8e-10,"s":"b"},{"t":199.5,"v":3.2e-10,"s":"b"},{"t":200.5,"v":4.5e-10,"s":"b"},{"t":201.5,"v":4.1e-10,"s":"b"},{"t":202.5,"v":5.9e-10,"s":"b"},{"t":203.5,"v":3.4e-10,"s":"b"},{"t":204.5,"v":7.7e-10,"s":"b"},{"t":205.5,"v":4.7e-10,"s":"b"},{"t":206.5,"v":3.8e-10,"s":"b"},{"t":207.5,"v":5.4e-10,"s":"b"},{"t":208.5,"v":4.3e-10,"s":"b"},{"t":209.5,"v":6.3e-10,"s":"b"},{"t":210.5,"v":3.5e-10,"s":"b"},{"t":211.5,"v":3.6e-10,"s":"b"},{"t":212.5,"v":5.2e-10,"s":"b"},{"t":213.5,"v":6.8e-10,"s":"b"},{"t":214.5,"v":3.2e-10,"s":"b"},{"t":215.5,"v":4.5e-10,"s":"b"},{"t":216.5,"v":4.1e-10,"s":"b"},{"t":217.5,"v":5.9e-10,"s":"b"},{"t":218.5,"v":3.4e-10,"s":"b"},{"t":219.5,"v":7.7e-10,"s":"b"},{"t":220.5,"v":4.7e-10,"s":"b"},{"t":221.5,"v":3.8e-10,"s":"b"},{"t":222.5,"v":5.4e-10,"s":"b"},{"t":223.5,"v":4.3e-10,"s":"b"},{"t":224.5,"v":6.3e-10,"s":"b"},{"t":225.5,"v":3.5e-10,"s":"b"},
  {"t":216.6,"v":1.1e-9,"s":"b"},
  {"t":227,"v":3.1e-10,"s":"b"},{"t":228,"v":4.3e-10,"s":"b"},{"t":229,"v":2.3e-10,"s":"b"},{"t":230,"v":3.7e-10,"s":"b"},{"t":231,"v":2.6e-10,"s":"b"},{"t":232,"v":5.0e-10,"s":"b"},{"t":233,"v":2.2e-10,"s":"b"},{"t":234,"v":3.4e-10,"s":"b"},{"t":235,"v":2.8e-10,"s":"b"},{"t":236,"v":4.0e-10,"s":"b"},{"t":237,"v":2.5e-10,"s":"b"},{"t":238,"v":3.0e-10,"s":"b"},{"t":239,"v":2.2e-10,"s":"b"},{"t":240,"v":3.3e-10,"s":"b"},{"t":241,"v":2.4e-10,"s":"b"},{"t":242,"v":2.7e-10,"s":"b"},{"t":243,"v":2.0e-10,"s":"b"},{"t":244,"v":2.4e-10,"s":"b"},{"t":245,"v":1.8e-10,"s":"b"},{"t":246,"v":2.2e-10,"s":"b"},{"t":247,"v":1.7e-10,"s":"b"},
  {"t":226.5,"v":2.5e-10,"s":"b"},{"t":227.5,"v":3.6e-10,"s":"b"},{"t":228.5,"v":4.6e-10,"s":"b"},{"t":229.5,"v":2.2e-10,"s":"b"},{"t":230.5,"v":3.0e-10,"s":"b"},{"t":231.5,"v":2.7e-10,"s":"b"},{"t":232.5,"v":3.8e-10,"s":"b"},{"t":233.5,"v":2.2e-10,"s":"b"},{"t":234.5,"v":4.8e-10,"s":"b"},{"t":235.5,"v":2.9e-10,"s":"b"},{"t":236.5,"v":2.3e-10,"s":"b"},{"t":237.5,"v":3.2e-10,"s":"b"},{"t":238.5,"v":2.5e-10,"s":"b"},{"t":239.5,"v":3.4e-10,"s":"b"},{"t":240.5,"v":2.1e-10,"s":"b"},{"t":241.5,"v":2.0e-10,"s":"b"},{"t":242.5,"v":2.6e-10,"s":"b"},{"t":243.5,"v":3.1e-10,"s":"b"},{"t":244.5,"v":1.7e-10,"s":"b"},{"t":245.5,"v":2.2e-10,"s":"b"},{"t":246.5,"v":1.9e-10,"s":"b"},{"t":247.5,"v":2.4e-10,"s":"b"},
  {"t":232,"v":6.5e-10,"s":"b"},
  {"t":248,"v":4.9e-10,"s":"b"},{"t":249,"v":6.6e-10,"s":"b"},{"t":250,"v":3.7e-10,"s":"b"},{"t":251,"v":5.9e-10,"s":"b"},{"t":252,"v":4.2e-10,"s":"b"},{"t":253,"v":7.6e-10,"s":"b"},{"t":254,"v":3.5e-10,"s":"b"},{"t":255,"v":5.4e-10,"s":"b"},{"t":256,"v":4.4e-10,"s":"b"},{"t":257,"v":6.3e-10,"s":"b"},{"t":258,"v":3.9e-10,"s":"b"},{"t":259,"v":8.8e-10,"s":"b"},{"t":260,"v":5.1e-10,"s":"b"},{"t":261,"v":3.6e-10,"s":"b"},{"t":262,"v":6.0e-10,"s":"b"},{"t":263,"v":4.4e-10,"s":"b"},{"t":264,"v":7.0e-10,"s":"b"},{"t":265,"v":4.6e-10,"s":"b"},{"t":266,"v":3.7e-10,"s":"b"},{"t":267,"v":5.6e-10,"s":"b"},{"t":268,"v":4.7e-10,"s":"b"},{"t":269,"v":6.8e-10,"s":"b"},{"t":270,"v":5.6e-10,"s":"b"},
  {"t":248.5,"v":3.9e-10,"s":"b"},{"t":249.5,"v":5.6e-10,"s":"b"},{"t":250.5,"v":7.4e-10,"s":"b"},{"t":251.5,"v":3.4e-10,"s":"b"},{"t":252.5,"v":4.9e-10,"s":"b"},{"t":253.5,"v":4.4e-10,"s":"b"},{"t":254.5,"v":6.4e-10,"s":"b"},{"t":255.5,"v":3.7e-10,"s":"b"},{"t":256.5,"v":8.3e-10,"s":"b"},{"t":257.5,"v":5.1e-10,"s":"b"},{"t":258.5,"v":4.2e-10,"s":"b"},{"t":259.5,"v":5.9e-10,"s":"b"},{"t":260.5,"v":4.7e-10,"s":"b"},{"t":261.5,"v":6.9e-10,"s":"b"},{"t":262.5,"v":3.8e-10,"s":"b"},{"t":263.5,"v":3.9e-10,"s":"b"},{"t":264.5,"v":5.6e-10,"s":"b"},{"t":265.5,"v":7.4e-10,"s":"b"},{"t":266.5,"v":3.4e-10,"s":"b"},{"t":267.5,"v":4.9e-10,"s":"b"},{"t":268.5,"v":4.4e-10,"s":"b"},{"t":269.5,"v":6.4e-10,"s":"b"},
  {"t":255,"v":1.1e-9,"s":"b"},{"t":256,"v":8.5e-10,"s":"b"},{"t":267,"v":8.3e-10,"s":"b"},{"t":262,"v":1.0e-9,"s":"b"},
  {"t":270.3,"v":3.4e-9,"s":"c"},{"t":271,"v":3.7e-9,"s":"c"},{"t":272,"v":3.9e-9,"s":"c"},{"t":273,"v":3.9e-9,"s":"c"},{"t":274,"v":4.0e-9,"s":"c"},{"t":275,"v":4.2e-9,"s":"c"},{"t":276,"v":4.3e-9,"s":"c"},{"t":277,"v":4.5e-9,"s":"c"},{"t":277.5,"v":6.5e-9,"s":"c"},{"t":278,"v":7.8e-9,"s":"c"},{"t":279,"v":8.3e-9,"s":"c"},{"t":280,"v":8.6e-9,"s":"c"},{"t":281,"v":8.3e-9,"s":"c"},{"t":282,"v":7.8e-9,"s":"c"},{"t":284,"v":7.1e-9,"s":"c"},{"t":286,"v":6.6e-9,"s":"c"},{"t":288,"v":6.0e-9,"s":"c"},{"t":290,"v":5.5e-9,"s":"c"},{"t":292,"v":5.1e-9,"s":"c"},{"t":294,"v":4.7e-9,"s":"c"},{"t":295.5,"v":4.4e-9,"s":"c"},
  {"t":276.5,"v":3.5e-9,"s":"o"}
 ]
},
"vconcat": [
 {
  "width": 730, "height": 148,
  "layer": [
   {
    "data": {"name": "qe"},
    "mark": {"type": "line", "color": "#ff4d1a", "strokeWidth": 3},
    "encoding": {
     "x": {"field": "t", "type": "quantitative", "scale": {"domain": [0, 300], "nice": false, "zero": false}, "axis": null},
     "y": {"field": "v", "type": "quantitative", "scale": {"domain": [0, 6], "nice": false}, "axis": {"orient": "left", "values": [0, 2, 4, 6], "title": "Q.E. / %", "tickSize": -8, "labelPadding": 24, "titleX": -63, "titleBaseline": "middle"}},
     "detail": {"field": "s", "type": "nominal"}
    }
   },
   {
    "data": {"name": "qeo"},
    "mark": {"type": "square", "color": "#ff4d1a", "size": 12, "opacity": 1},
    "encoding": {
     "x": {"field": "t", "type": "quantitative", "scale": {"domain": [0, 300], "nice": false, "zero": false}, "axis": null},
     "y": {"field": "v", "type": "quantitative", "scale": {"domain": [0, 6], "nice": false}, "axis": {"orient": "right", "values": [0, 2, 4, 6], "labels": false, "title": null, "tickSize": -8}}
    }
   },
   {
    "data": {"values": [{"t": 90}, {"t": 270}]},
    "mark": {"type": "rule", "color": "#111", "strokeWidth": 3},
    "encoding": {"x": {"field": "t", "type": "quantitative", "scale": {"domain": [0, 300], "nice": false, "zero": false}, "axis": null}}
   }
  ]
 },
 {
  "width": 730, "height": 148,
  "layer": [
   {
    "data": {"name": "pw"},
    "mark": {"type": "line", "color": "#1a2cff", "strokeWidth": 3},
    "encoding": {
     "x": {"field": "t", "type": "quantitative", "scale": {"domain": [0, 300], "nice": false, "zero": false}, "axis": null},
     "y": {"field": "v", "type": "quantitative", "scale": {"domain": [0, 300], "nice": false}, "axis": {"orient": "right", "values": [0, 150, 300], "title": "Power / mW", "tickSize": -8, "labelPadding": 25, "titleAngle": 270, "titleX": 95, "titleBaseline": "middle"}},
     "detail": {"field": "s", "type": "nominal"}
    }
   },
   {
    "data": {"name": "pwo"},
    "mark": {"type": "square", "color": "#1a2cff", "size": 14, "opacity": 1},
    "encoding": {
     "x": {"field": "t", "type": "quantitative", "scale": {"domain": [0, 300], "nice": false, "zero": false}, "axis": null},
     "y": {"field": "v", "type": "quantitative", "scale": {"domain": [0, 300], "nice": false}, "axis": {"orient": "right", "values": [0, 150, 300], "title": "Power / mW", "tickSize": -8, "labelPadding": 25, "titleAngle": 270, "titleX": 95, "titleBaseline": "middle"}}
    }
   },
   {
    "data": {"values": [{"t": 90}, {"t": 270}]},
    "mark": {"type": "rule", "color": "#111", "strokeWidth": 3},
    "encoding": {"x": {"field": "t", "type": "quantitative", "scale": {"domain": [0, 300], "nice": false, "zero": false}, "axis": null}}
   }
  ]
 },
 {
  "width": 730, "height": 148,
  "layer": [
   {
    "data": {"name": "cu"},
    "mark": {"type": "line", "color": "#1fe01f", "strokeWidth": 3},
    "encoding": {
     "x": {"field": "t", "type": "quantitative", "scale": {"domain": [0, 300], "nice": false, "zero": false}, "axis": null},
     "y": {"field": "v", "type": "quantitative", "scale": {"domain": [0, 1000], "nice": false}, "axis": {"orient": "left", "values": [0, 300, 600, 900], "title": "Current / ∝A", "tickSize": -8, "labelPadding": 26, "titleX": -98, "titleBaseline": "middle"}},
     "detail": {"field": "s", "type": "nominal"}
    }
   },
   {
    "data": {"name": "cuo"},
    "mark": {"type": "square", "color": "#1fe01f", "size": 12, "opacity": 1},
    "encoding": {
     "x": {"field": "t", "type": "quantitative", "scale": {"domain": [0, 300], "nice": false, "zero": false}, "axis": null},
     "y": {"field": "v", "type": "quantitative", "scale": {"domain": [0, 1000], "nice": false}, "axis": {"orient": "right", "values": [0, 300, 600, 900], "labels": false, "title": null, "tickSize": -8}}
    }
   },
   {
    "data": {"values": [{"t": 90}, {"t": 270}]},
    "mark": {"type": "rule", "color": "#111", "strokeWidth": 3},
    "encoding": {"x": {"field": "t", "type": "quantitative", "scale": {"domain": [0, 300], "nice": false, "zero": false}, "axis": null}}
   },
   {
    "data": {"name": "ann"},
    "transform": [{"filter": "datum.kind === 'circle'"}],
    "mark": {"type": "point", "shape": "circle", "filled": false, "size": 1385, "stroke": "#111", "strokeWidth": 2.5, "opacity": 1},
    "encoding": {
     "x": {"field": "t", "type": "quantitative", "scale": {"domain": [0, 300], "nice": false, "zero": false}, "axis": null},
     "y": {"field": "v", "type": "quantitative", "scale": {"domain": [0, 1000], "nice": false}, "axis": null}
    }
   },
   {
    "data": {"name": "ann"},
    "transform": [{"filter": "datum.kind === 'ellipse'"}],
    "mark": {"type": "point", "shape": "M-1,0C-1,-0.282,-0.552,-0.51,0,-0.51C0.552,-0.51,1,-0.282,1,0C1,0.282,0.552,0.51,0,0.51C-0.552,0.51,-1,0.282,-1,0Z", "filled": false, "size": 13924, "stroke": "#111", "strokeWidth": 2.5, "opacity": 1},
    "encoding": {
     "x": {"field": "t", "type": "quantitative", "scale": {"domain": [0, 300], "nice": false, "zero": false}, "axis": null},
     "y": {"field": "v", "type": "quantitative", "scale": {"domain": [0, 1000], "nice": false}, "axis": null}
    }
   },
   {
    "data": {"name": "ann"},
    "mark": {"type": "text", "font": "Liberation Sans", "fontSize": 33, "color": "#111", "baseline": "middle", "align": "center"},
    "encoding": {
     "x": {"field": "t", "type": "quantitative", "scale": {"domain": [0, 300], "nice": false, "zero": false}, "axis": null},
     "y": {"field": "v", "type": "quantitative", "scale": {"domain": [0, 1000], "nice": false}, "axis": null},
     "text": {"field": "lab"},
     "size": {"condition": {"test": "datum.kind === 'ellipse'", "value": 37}, "value": 33}
    }
   }
  ]
 },
 {
  "width": 730, "height": 148,
  "layer": [
   {
    "data": {"name": "vac"},
    "mark": {"type": "square", "color": "#ff1a1a", "size": 13, "opacity": 1},
    "encoding": {
     "x": {"field": "t", "type": "quantitative", "scale": {"domain": [0, 300], "nice": false, "zero": false}, "axis": {"orient": "bottom", "values": [0, 50, 100, 150, 200, 250, 300], "title": "Time / h", "tickSize": -8, "labelPadding": 27, "labelColor": "#000", "labelFontSize": 26, "titlePadding": 10, "titleColor": "#000"}},
     "y": {"field": "v", "type": "quantitative", "scale": {"type": "log", "domain": [1e-10, 1e-7], "nice": false}, "axis": {"orient": "right", "values": [1e-10, 2e-10, 3e-10, 4e-10, 5e-10, 6e-10, 7e-10, 8e-10, 9e-10, 1e-9, 2e-9, 3e-9, 4e-9, 5e-9, 6e-9, 7e-9, 8e-9, 9e-9, 1e-8, 2e-8, 3e-8, 4e-8, 5e-8, 6e-8, 7e-8, 8e-8, 9e-8, 1e-7], "labelExpr": "datum.value > 9e-8 ? '10⁻⁷' : (datum.value > 9e-9 && datum.value < 1.1e-8) ? '10⁻⁸' : (datum.value > 9e-10 && datum.value < 1.1e-9) ? '10⁻⁹' : datum.value < 1.1e-10 ? '10⁻¹⁰' : ''", "labelOverlap": false, "title": "Vac. / mbar", "tickSize": -6, "labelPadding": 24, "titleAngle": 270, "titleX": 97, "titleBaseline": "middle"}}
    }
   },
   {
    "data": {"name": "vac"},
    "transform": [{"filter": "datum.s === 'c'"}],
    "mark": {"type": "line", "color": "#ff1a1a", "strokeWidth": 3},
    "encoding": {
     "x": {"field": "t", "type": "quantitative", "scale": {"domain": [0, 300], "nice": false, "zero": false}, "axis": {"orient": "top", "values": [0, 50, 100, 150, 200, 250, 300], "labels": false, "title": null, "tickSize": -8}},
     "y": {"field": "v", "type": "quantitative", "scale": {"type": "log", "domain": [1e-10, 1e-7], "nice": false}, "axis": {"orient": "right", "values": [1e-10, 2e-10, 3e-10, 4e-10, 5e-10, 6e-10, 7e-10, 8e-10, 9e-10, 1e-9, 2e-9, 3e-9, 4e-9, 5e-9, 6e-9, 7e-9, 8e-9, 9e-9, 1e-8, 2e-8, 3e-8, 4e-8, 5e-8, 6e-8, 7e-8, 8e-8, 9e-8, 1e-7], "labelExpr": "datum.value > 9e-8 ? '10⁻⁷' : (datum.value > 9e-9 && datum.value < 1.1e-8) ? '10⁻⁸' : (datum.value > 9e-10 && datum.value < 1.1e-9) ? '10⁻⁹' : datum.value < 1.1e-10 ? '10⁻¹⁰' : ''", "labelOverlap": false, "title": "Vac. / mbar", "tickSize": -6, "labelPadding": 24, "titleAngle": 270, "titleX": 97, "titleBaseline": "middle"}}
    }
   },
   {
    "data": {"values": [{"t": 90}, {"t": 270}]},
    "mark": {"type": "rule", "color": "#111", "strokeWidth": 3},
    "encoding": {"x": {"field": "t", "type": "quantitative", "scale": {"domain": [0, 300], "nice": false, "zero": false}, "axis": null}}
   }
  ]
 }
]
}
